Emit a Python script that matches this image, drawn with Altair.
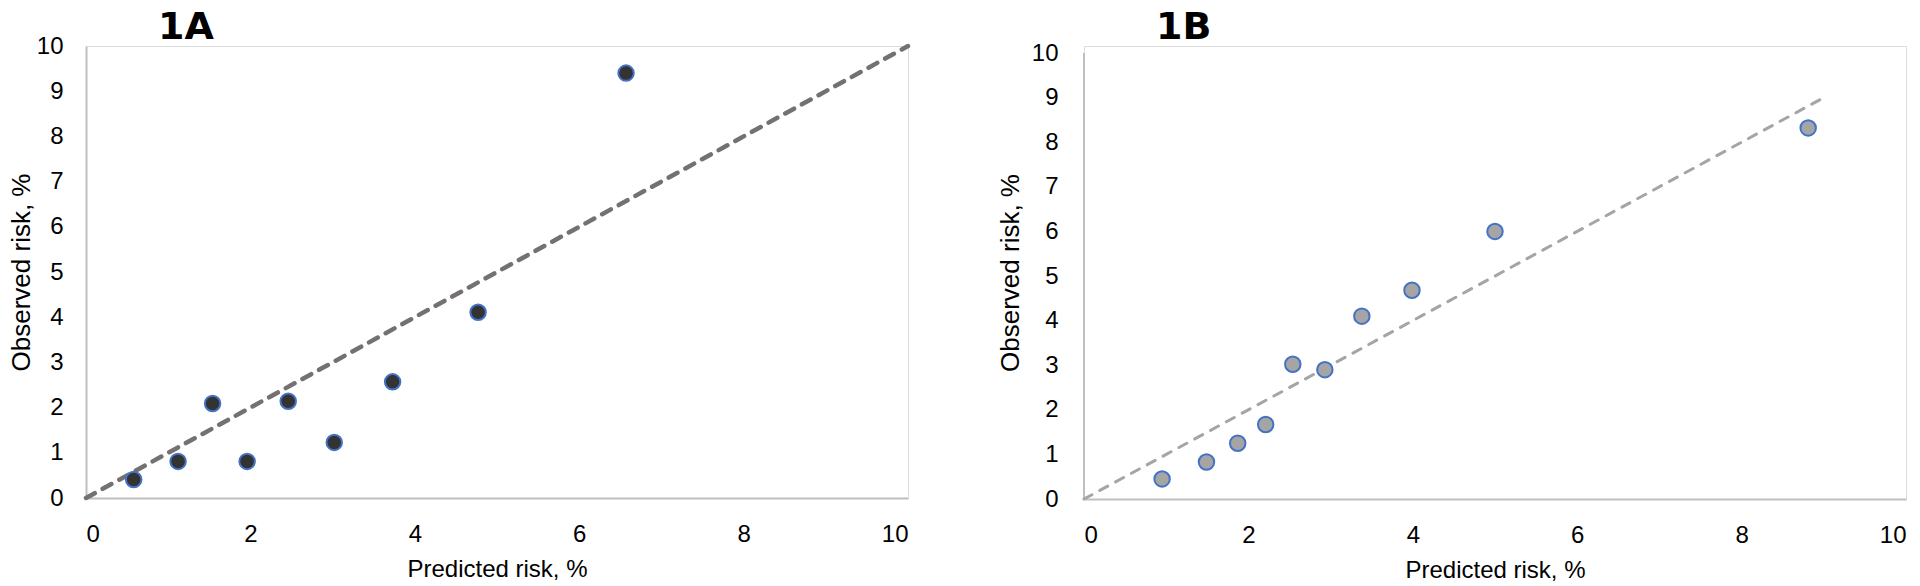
import altair as alt
import pandas as pd

# ---- data ----
a_pred = [0.58, 1.12, 1.54, 1.96, 2.46, 3.02, 3.73, 4.77, 6.57]
a_obs = [0.41, 0.81, 2.09, 0.81, 2.14, 1.23, 2.57, 4.11, 9.40]

b_pred = [0.95, 1.49, 1.87, 2.21, 2.54, 2.93, 3.38, 3.99, 5.00, 8.81]
b_obs = [0.45, 0.83, 1.25, 1.67, 3.02, 2.90, 4.10, 4.68, 6.00, 8.32]

a_ref = [0, 10]   # identity line, panel A
b_ref = [0, 9]    # identity line, panel B
b_axis_span = [0, 10]  # extent of panel B's vertical axis line

x_ticks = [0, 2, 4, 6, 8, 10]
y_ticks = [0, 1, 2, 3, 4, 5, 6, 7, 8, 9, 10]

FONT = "Liberation Sans"
TITLE_FONT = "DejaVu Sans"
AXIS_COLOR = "#BFBFBF"


def panel(pred, obs, ref, name, fill, line_color, line_width, dash,
          height, y_max, label_pad_y, title_pad_y, title_offset, y_domain):
    pts = pd.DataFrame({"pred": pred, "obs": obs})
    ln = pd.DataFrame({"pred": ref, "obs": ref})

    x = alt.X(
        "pred:Q",
        scale=alt.Scale(domain=[0, 10], nice=False, zero=True),
        axis=alt.Axis(
            values=x_ticks, title="Predicted risk, %", grid=False, ticks=False,
            tickSize=0, domainColor=AXIS_COLOR, domainWidth=2,
            labelFont=FONT, labelFontSize=24, labelColor="#000000",
            labelPadding=24, titleFont=FONT, titleFontSize=24,
            titleFontWeight="normal", titleColor="#000000", titlePadding=11,
        ),
    )
    y = alt.Y(
        "obs:Q",
        scale=alt.Scale(domain=[0, y_max], nice=False, zero=True),
        axis=alt.Axis(
            values=y_ticks, title="Observed risk, %", grid=False, ticks=False,
            tickSize=0, domain=y_domain, domainColor=AXIS_COLOR, domainWidth=2,
            labelFont=FONT, labelFontSize=24, labelColor="#000000",
            labelPadding=label_pad_y, titleFont=FONT, titleFontSize=26,
            titleFontWeight="normal", titleColor="#000000",
            titlePadding=title_pad_y,
        ),
    )

    layers = []
    if not y_domain:
        span = pd.DataFrame({"pred": [0], "obs": [b_axis_span[0]],
                             "obs_end": [b_axis_span[1]]})
        layers.append(
            alt.Chart(span).mark_rule(color=AXIS_COLOR, strokeWidth=2)
            .encode(x=x, y=y, y2="obs_end:Q")
        )

    layers.append(
        alt.Chart(ln).mark_line(
            color=line_color, strokeWidth=line_width, strokeDash=dash,
            strokeCap="round", clip=False,
        ).encode(x=x, y=y)
    )
    layers.append(
        alt.Chart(pts).mark_circle(
            size=240, color=fill, opacity=1, stroke="#4472C4", strokeWidth=2,
        ).encode(x=x, y=y)
    )

    return alt.layer(*layers).properties(
        width=822,
        height=height,
        title=alt.TitleParams(
            text=name, anchor="start", frame="group", dx=72,
            fontSize=38, fontWeight="bold", font=TITLE_FONT, color="#000000",
            offset=title_offset,
        ),
    )


panel_a = panel(a_pred, a_obs, a_ref, "1A", "#333333", "#767171", 4.5,
                [10, 9], 452, 10, 23, 1.5, -13, True)
panel_b = panel(b_pred, b_obs, b_ref, "1B", "#A5A5A5", "#A5A5A5", 3,
                [9, 9], 453, 10 * 453 / 446, 26, 8, -6, False)

chart = alt.hconcat(panel_a, panel_b, spacing=78).properties(
    padding=0
).configure_view(stroke=None).configure(background="#ffffff")

chart.save("out.html", embed_options={"renderer": "svg", "actions": False})
